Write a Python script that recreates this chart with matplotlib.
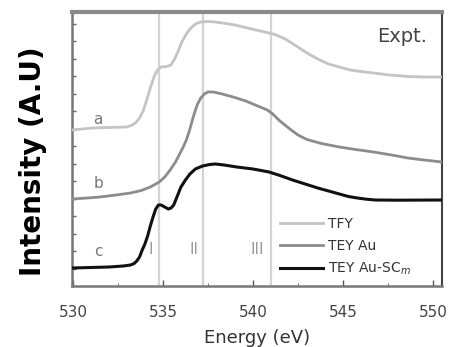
import matplotlib
matplotlib.use("Agg")
import matplotlib.pyplot as plt
import numpy as np

# Data
tfy_e = [529.95, 530.5, 531.1, 532.0, 533.0, 533.3, 533.5, 533.7, 533.9, 534.1, 534.3,
         534.5, 534.7, 534.9, 535.2, 535.45, 535.65, 535.85, 536.05, 536.3, 536.55,
         536.8, 537.1, 537.5, 537.9, 538.5, 539.0, 539.7, 540.4, 540.9, 541.3, 541.8,
         542.4, 543.0, 543.6, 544.2, 544.8, 545.4, 546.0, 546.7, 547.6, 548.6, 549.5, 550.5]
tfy_i = [156, 157, 158, 158.5, 159, 161, 163.5, 168, 175, 186, 198,
         209, 216, 219, 219.5, 221, 227, 235, 244, 252, 258,
         262, 264, 264.5, 264, 262.5, 261, 258, 255, 253, 251, 247,
         240, 233, 227, 222, 219, 216, 214.5, 213, 211, 209.5, 209, 209]

au_e = [529.95, 530.8, 531.5, 532.4, 533.2, 533.8, 534.3, 534.8, 535.1, 535.4, 535.7,
        535.9, 536.1, 536.3, 536.5, 536.7, 536.9, 537.1, 537.3, 537.5, 537.8, 538.3,
        538.9, 539.6, 540.4, 540.8, 541.1, 541.5, 542.05, 542.5, 543.0, 543.8, 544.8,
        545.7, 546.7, 547.7, 548.6, 549.5, 550.5]
au_i = [87, 88, 89, 91, 93, 95.5, 99, 104, 109, 116, 124,
        131, 138, 146, 157, 170, 181, 188, 192, 194, 194, 192,
        189, 185, 179, 176, 172, 165, 157, 151, 146.5, 142.5, 139,
        136.5, 134, 131, 128, 126, 124]

sc_e = [529.95, 531.0, 532.0, 532.8, 533.2, 533.4, 533.55, 533.7, 533.85, 534.0, 534.15,
        534.3, 534.45, 534.6, 534.75, 534.9, 535.1, 535.3, 535.45, 535.6, 535.8, 536.0,
        536.25, 536.5, 536.8, 537.2, 537.6, 537.9, 538.4, 539.1, 540.0, 540.9, 541.5,
        542.2, 542.9, 543.6, 544.2, 544.8, 545.3, 545.8, 546.3, 546.8, 548.0, 550.5]
sc_i = [18, 18.5, 19, 20, 21, 22.5, 25, 29, 36, 42, 50,
        60, 69, 77, 81, 81, 79, 77, 78, 81, 90, 99,
        106, 112, 117, 120, 121.5, 122, 121, 119, 117, 114, 110.5,
        106, 102, 98, 95, 92, 89.5, 88, 86.8, 86, 85.8, 86]

region_lines = [534.8, 537.2, 541.0]
region_labels = ["I", "II", "III"]
series_labels = ["TFY", "TEY Au", "TEY Au-SC$_{m}$"]
curve_letters = ["a", "b", "c"]
xticks = [530, 535, 540, 545, 550]

fig = plt.figure(figsize=(4.55, 3.47), dpi=100)
ax = fig.add_axes([72/455, 61/347, 370/455, 274/347])

for x in region_lines:
    ax.axvline(x, color="#d4d4d4", lw=1.6, zorder=1)

l1, = ax.plot(tfy_e, tfy_i, color="#c4c4c4", lw=2.0, zorder=3, solid_joinstyle="round")
l2, = ax.plot(au_e, au_i, color="#8c8c8c", lw=2.0, zorder=3, solid_joinstyle="round")
l3, = ax.plot(sc_e, sc_i, color="#111111", lw=2.2, zorder=4, solid_joinstyle="round")

ax.set_xlim(529.95, 550.5)
ax.set_ylim(0, 274)

# letters a, b, c
for (xx, yy), t in zip([(531.4, 166), (531.4, 103), (531.4, 34)], curve_letters):
    ax.text(xx, yy, t, color="#777777", fontsize=11, ha="center", va="center")

for x, t in zip([534.3, 536.75, 540.25], region_labels):
    ax.text(x, 36, t, color="#999999", fontsize=11, ha="center", va="center")

ax.text(548.3, 249, "Expt.", color="#444444", fontsize=14, ha="center", va="center")

leg = ax.legend([l1, l2, l3], series_labels, loc="upper left",
                bbox_to_anchor=(0.562, 0.251), frameon=False, fontsize=10,
                handlelength=3.1, handletextpad=0.35, labelspacing=0.55,
                borderaxespad=0.0, borderpad=0.0)
for t in leg.get_texts():
    t.set_color("#333333")

ax.set_xticks(xticks)
ax.set_xticks(np.arange(530, 550.1, 2.5), minor=True)
ax.set_yticks(np.arange(17.5, 274, 17.5))
ax.set_yticklabels([])
ax.tick_params(axis="x", direction="in", length=4, width=1, color="#555555",
               labelsize=11, labelcolor="#444444", pad=14)
ax.tick_params(axis="x", which="minor", direction="in", length=2.5, color="#555555")
ax.tick_params(axis="y", direction="in", length=3, width=1, color="#666666")

for s in ["left", "bottom"]:
    ax.spines[s].set_color("#777777")
    ax.spines[s].set_linewidth(1.8)
ax.spines["top"].set_color("#8a8a8a")
ax.spines["top"].set_linewidth(3)
ax.spines["right"].set_color("#444444")
ax.spines["right"].set_linewidth(1.5)

ax.set_xlabel("Energy (eV)", fontsize=13, color="#333333", labelpad=6)
fig.text(33/455, 1 - 161/347, "Intensity (A.U)", rotation=90, fontsize=20,
         fontweight="bold", family="DejaVu Sans", ha="center", va="center")

fig.savefig("out.png", dpi=100)
